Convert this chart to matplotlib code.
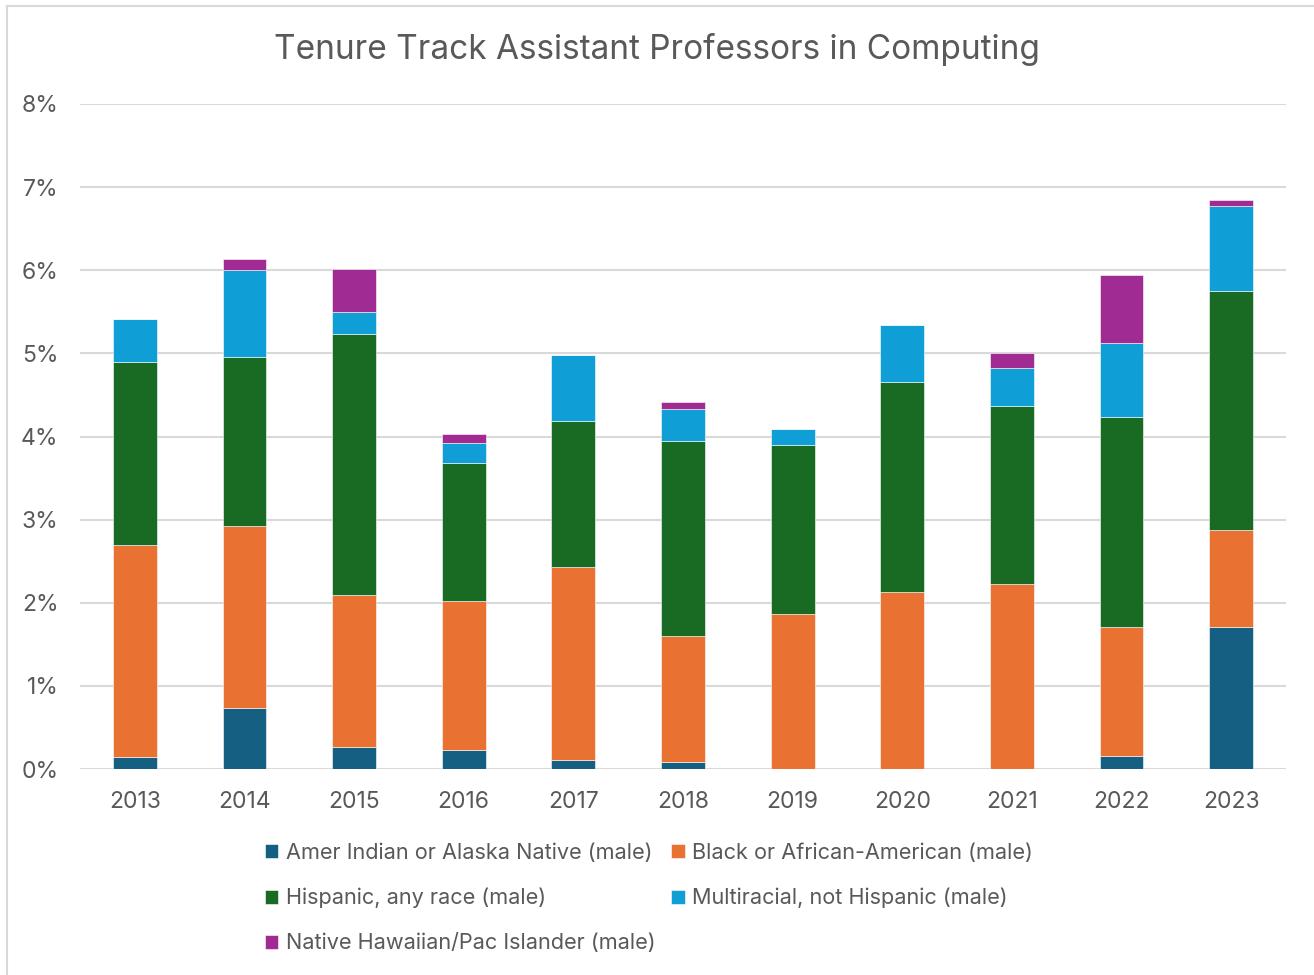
import matplotlib.pyplot as plt
import numpy as np
from matplotlib.ticker import FuncFormatter
from matplotlib.lines import Line2D

plt.rcParams['font.family'] = ['Inter', 'DejaVu Sans']

# Data (percent of tenure track assistant professors)
years = ['2013', '2014', '2015', '2016', '2017', '2018', '2019', '2020', '2021', '2022', '2023']
amer_indian = [0.15, 0.73, 0.26, 0.23, 0.11, 0.09, 0.0, 0.0, 0.0, 0.16, 1.71]
black = [2.55, 2.19, 1.83, 1.79, 2.32, 1.51, 1.86, 2.13, 2.23, 1.55, 1.16]
hispanic = [2.20, 2.04, 3.14, 1.66, 1.76, 2.35, 2.04, 2.53, 2.14, 2.52, 2.88]
multiracial = [0.51, 1.04, 0.27, 0.24, 0.79, 0.38, 0.19, 0.68, 0.45, 0.90, 1.02]
hawaiian = [0.0, 0.14, 0.52, 0.11, 0.0, 0.09, 0.0, 0.0, 0.18, 0.81, 0.08]

labels = ['Amer Indian or Alaska Native (male)', 'Black or African-American (male)',
          'Hispanic, any race (male)', 'Multiracial, not Hispanic (male)',
          'Native Hawaiian/Pac Islander (male)']
colors = ['#156082', '#E97132', '#196B24', '#0F9ED5', '#A02B93']

fig = plt.figure(figsize=(13.14, 9.75), dpi=100)
ax = fig.add_axes([80 / 1314, 1 - 769 / 975, 1206 / 1314, 665 / 975])

x = np.arange(len(years))
bottom = np.zeros(len(years))
bars = []
for vals, col, lab in zip([amer_indian, black, hispanic, multiracial, hawaiian], colors, labels):
    vals = np.array(vals)
    b = ax.bar(x, vals, 0.40, bottom=bottom, color=col, label=lab,
               edgecolor='white', linewidth=0.4, zorder=3)
    bars.append(b)
    bottom += vals

ax.set_xlim(-0.5, len(years) - 0.5)
ax.set_ylim(0, 8)
ax.set_yticks(np.arange(0, 9, 1))
ax.yaxis.set_major_formatter(FuncFormatter(lambda v, p: f'{int(v)}%'))
ax.set_xticks(x)
ax.set_xticklabels(years)
ax.grid(axis='y', color='#D9D9D9', linewidth=1.5, zorder=0)
for s in ax.spines.values():
    s.set_visible(False)
ax.tick_params(axis='both', length=0, labelsize=16.5, colors='#595959')
ax.tick_params(axis='x', pad=16)
ax.tick_params(axis='y', pad=15.5)

fig.text(0.5, 1 - 49 / 975, 'Tenure Track Assistant Professors in Computing',
         ha='center', va='center', fontsize=24, color='#595959')

# legend filled column by column, so order entries to read row by row
order = [0, 2, 4, 1, 3]
handles = [bars[i] for i in order]
leg = fig.legend(handles, [labels[i] for i in order], ncol=2,
                 loc='upper left', bbox_to_anchor=(265 / 1314, 1 - 843 / 975),
                 frameon=False, fontsize=15.6, labelcolor='#595959',
                 handlelength=0.62, handleheight=0.62, handletextpad=0.33,
                 columnspacing=0.75, labelspacing=1.15, borderaxespad=0, borderpad=0)

# chart border (top and left edges visible)
fig.add_artist(Line2D([7 / 1314, 7 / 1314], [0, 1 - 6 / 975], transform=fig.transFigure,
                      color='#D9D9D9', linewidth=1.5))
fig.add_artist(Line2D([7 / 1314, 1], [1 - 6 / 975, 1 - 6 / 975], transform=fig.transFigure,
                      color='#D9D9D9', linewidth=1.5))

fig.savefig('out.png', dpi=100, facecolor='white')
